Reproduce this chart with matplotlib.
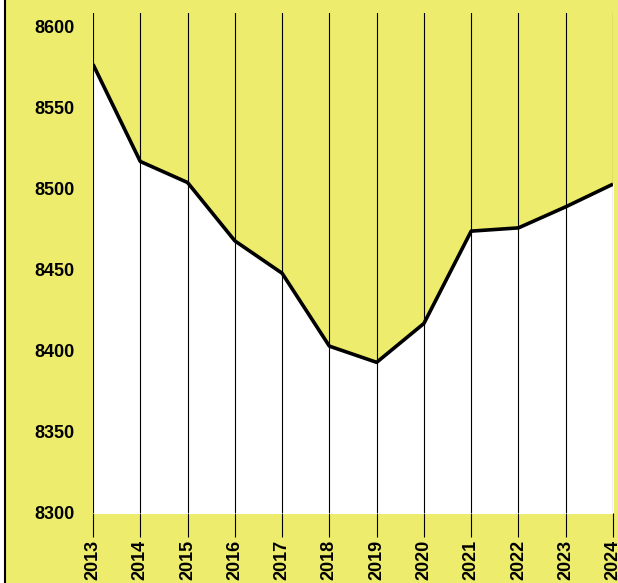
import matplotlib
matplotlib.use("Agg")
import matplotlib.pyplot as plt
from matplotlib.lines import Line2D
from matplotlib.patches import Rectangle

# datos
anios = [2013, 2014, 2015, 2016, 2017, 2018, 2019, 2020, 2021, 2022, 2023, 2024]
valores = [8577, 8517, 8504, 8468, 8448, 8403, 8393, 8417, 8474, 8476, 8489, 8503]
yticks = [8300, 8350, 8400, 8450, 8500, 8550, 8600]

amarillo = '#EDEC6C'
W, H = 618, 583

plt.rcParams['font.family'] = ['Liberation Sans', 'DejaVu Sans']

fig = plt.figure(figsize=(W / 100, H / 100), dpi=100, facecolor=amarillo)

# borde izquierdo
fig.add_artist(Rectangle((0, 0), 4 / W, 1, transform=fig.transFigure, color='white', zorder=0))
fig.add_artist(Line2D([4.8 / W, 4.8 / W], [0, 1], transform=fig.transFigure, color='black', lw=1.5))

ax = fig.add_axes([93 / W, (H - 513) / H, 520 / W, 500 / H])
ax.set_facecolor(amarillo)
ax.set_xlim(2013, 2024)
ax.set_ylim(8300, 8300 + 500 / 1.62)

ax.fill_between(anios, 8300, valores, color='white', zorder=1)
ax.plot(anios, valores, color='black', lw=2.6, zorder=3, solid_capstyle='butt')

ax.set_xticks(anios)
ax.set_xticklabels([str(a) for a in anios], rotation=90, fontweight='bold', fontsize=13)
ax.set_yticks(yticks)
ax.set_yticklabels([str(v) for v in yticks], fontweight='bold', fontsize=13)
ax.tick_params(axis='x', length=17.5, width=0.8, color='black', pad=2)
ax.tick_params(axis='y', length=0, pad=13)
ax.grid(axis='x', color='black', lw=0.8, zorder=2)
ax.set_axisbelow(False)

for s in ax.spines.values():
    s.set_visible(False)

fig.savefig('out.png', dpi=100, facecolor=amarillo)
